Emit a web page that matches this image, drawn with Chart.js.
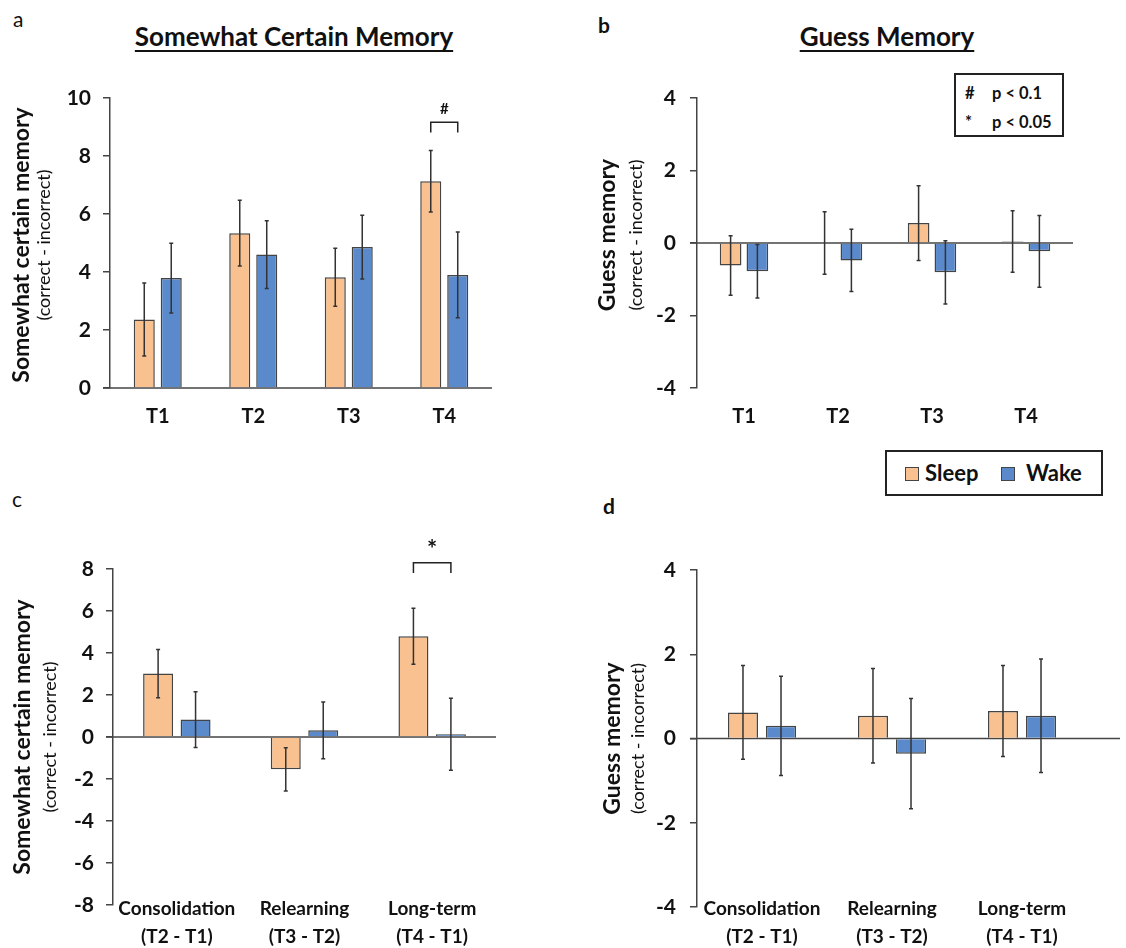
<!DOCTYPE html>
<html>
<head>
<meta charset="utf-8">
<script src="https://cdn.jsdelivr.net/npm/chart.js@4.4.1/dist/chart.umd.min.js"></script>
<style>
  body { margin: 0; width: 1126px; height: 948px; background: #fff; position: relative; overflow: hidden;
         font-family: Lato, "Open Sans", sans-serif; color: #111; }
  canvas { position: absolute; }
  .letter { position: absolute; font-size: 21px; line-height: 24px; }
  .title { position: absolute; font-size: 26px; font-weight: bold; line-height: 30px; white-space: nowrap;
           transform: translateX(-50%); text-decoration: underline; text-decoration-thickness: 2px; text-underline-offset: 4px; }
  .box { position: absolute; border: 2px solid #222; box-sizing: border-box; font-weight: bold; }
  .box span { position: absolute; white-space: nowrap; }
  .sw { width: 12px; height: 12px; border: 1.5px solid #444; }
</style>
</head>
<body>

<div class="letter" style="left:13px;top:7px;">a</div>
<div class="letter" style="left:598px;top:13px;font-weight:bold;">b</div>
<div class="letter" style="left:12px;top:487px;">c</div>
<div class="letter" style="left:603px;top:494px;font-weight:bold;">d</div>

<div class="title" style="left:294px;top:21px;">Somewhat Certain Memory</div>
<div class="title" style="left:887px;top:21px;">Guess Memory</div>

<div class="box" style="left:954px;top:73px;width:110px;height:64px;font-size:16.5px;">
  <span style="left:9px;top:8px;">#</span><span style="left:36px;top:8px;">p &lt; 0.1</span>
  <span style="left:9px;top:37px;">*</span><span style="left:36px;top:37px;">p &lt; 0.05</span>
</div>

<div class="box" style="left:885px;top:450px;width:218px;height:46px;font-size:22px;">
  <span class="sw" style="left:18px;top:15px;background:#F9C18F;"></span><span style="left:38px;top:7px;">Sleep</span>
  <span class="sw" style="left:114px;top:15px;background:#5A8ACB;"></span><span style="left:139px;top:7px;">Wake</span>
</div>

<canvas id="chartA" width="560" height="445" style="left:0;top:0;"></canvas>
<canvas id="chartB" width="566" height="445" style="left:560px;top:0;"></canvas>
<canvas id="chartC" width="560" height="503" style="left:0;top:445px;"></canvas>
<canvas id="chartD" width="566" height="503" style="left:560px;top:445px;"></canvas>

<script>
// categories
const timeLabels = ['T1', 'T2', 'T3', 'T4'];
const changeLabels = [['Consolidation', '(T2 - T1)'], ['Relearning', '(T3 - T2)'], ['Long-term', '(T4 - T1)']];

// a: somewhat certain memory
const certainSleep = [2.36, 5.34, 3.82, 7.13];
const certainSleepErr = [1.26, 1.13, 1.0, 1.06];
const certainWake = [3.79, 4.6, 4.86, 3.9];
const certainWakeErr = [1.2, 1.17, 1.1, 1.48];

// b: guess memory
const guessSleep = [-0.62, 0.0, 0.55, 0.04];
const guessSleepErr = [0.82, 0.86, 1.03, 0.85];
const guessWake = [-0.78, -0.48, -0.81, -0.23];
const guessWakeErr = [0.74, 0.86, 0.87, 0.99];

// c: somewhat certain memory, change scores
const certainChangeSleep = [3.02, -1.54, 4.8];
const certainChangeSleepErr = [1.15, 1.03, 1.33];
const certainChangeWake = [0.83, 0.32, 0.13];
const certainChangeWakeErr = [1.33, 1.35, 1.71];

// d: guess memory, change scores
const guessChangeSleep = [0.62, 0.54, 0.65];
const guessChangeSleepErr = [1.11, 1.12, 1.08];
const guessChangeWake = [0.30, -0.36, 0.54];
const guessChangeWakeErr = [1.18, 1.31, 1.35];

const SLEEP = '#F9C18F';
const WAKE = '#5A8ACB';
const INK = '#111';
const AXIS = '#444';

/* ---------- plugins ---------- */
const zeroLine = {
  id: 'zeroLine',
  beforeDatasetsDraw(chart, args, o) {
    const { ctx, chartArea } = chart;
    const y = chart.scales.y.getPixelForValue(0);
    ctx.save();
    ctx.strokeStyle = AXIS;
    ctx.lineWidth = 1.5;
    ctx.beginPath();
    ctx.moveTo(chartArea.left - 7, y);
    ctx.lineTo(chartArea.right + (o.extend || 0), y);
    ctx.stroke();
    ctx.restore();
  }
};

const errorBars = {
  id: 'errorBars',
  afterDatasetsDraw(chart) {
    const ctx = chart.ctx, ys = chart.scales.y;
    ctx.save();
    ctx.strokeStyle = '#333';
    ctx.lineWidth = 1.5;
    chart.data.datasets.forEach((ds, di) => {
      chart.getDatasetMeta(di).data.forEach((bar, i) => {
        const top = ys.getPixelForValue(ds.data[i] + ds.errors[i]);
        const bot = ys.getPixelForValue(ds.data[i] - ds.errors[i]);
        ctx.beginPath();
        ctx.moveTo(bar.x, top); ctx.lineTo(bar.x, bot);
        ctx.moveTo(bar.x - 2, top); ctx.lineTo(bar.x + 2, top);
        ctx.moveTo(bar.x - 2, bot); ctx.lineTo(bar.x + 2, bot);
        ctx.stroke();
      });
    });
    ctx.restore();
  }
};

const sideTitle = {
  id: 'sideTitle',
  afterDraw(chart, args, o) {
    const { ctx, chartArea } = chart;
    const cy = (chartArea.top + chartArea.bottom) / 2 + (o.dy || 0);
    ctx.save();
    ctx.fillStyle = INK;
    ctx.textAlign = 'center';
    ctx.textBaseline = 'middle';
    ctx.translate(o.x1, cy);
    ctx.rotate(-Math.PI / 2);
    ctx.font = 'bold 23px Lato';
    ctx.fillText(o.main, 0, 0);
    ctx.font = '18px Lato';
    ctx.fillText('(correct - incorrect)', 0, o.x2 - o.x1);
    ctx.restore();
  }
};

// category labels that sit level with the lowest y tick (c and d)
const catLabels = {
  id: 'catLabels',
  afterDraw(chart, args, o) {
    if (!o.show) return;
    const { ctx, chartArea } = chart;
    const xs = chart.scales.x;
    ctx.save();
    ctx.fillStyle = INK;
    ctx.textAlign = 'center';
    ctx.textBaseline = 'middle';
    ctx.font = 'bold 19px Lato';
    chart.data.labels.forEach((lines, i) => {
      const x = xs.getPixelForValue(i);
      lines.forEach((t, k) => ctx.fillText(t, x, chartArea.bottom + o.dy + k * o.lh));
    });
    ctx.restore();
  }
};

const bracket = {
  id: 'bracket',
  afterDraw(chart, args, o) {
    if (!o.label) return;
    const ctx = chart.ctx, ys = chart.scales.y;
    const x1 = chart.getDatasetMeta(0).data[o.index].x;
    const x2 = chart.getDatasetMeta(1).data[o.index].x;
    const yt = ys.getPixelForValue(o.top), yb = ys.getPixelForValue(o.foot);
    ctx.save();
    ctx.strokeStyle = '#222';
    ctx.lineWidth = 1.5;
    ctx.beginPath();
    ctx.moveTo(x1, yb); ctx.lineTo(x1, yt); ctx.lineTo(x2, yt); ctx.lineTo(x2, yb);
    ctx.stroke();
    ctx.fillStyle = INK;
    ctx.textAlign = 'center';
    ctx.textBaseline = 'middle';
    ctx.font = 'bold ' + o.size + 'px Lato';
    ctx.fillText(o.label, (x1 + x2) / 2, ys.getPixelForValue(o.mark));
    ctx.restore();
  }
};

/* ---------- builder ---------- */
function makeChart(id, p) {
  new Chart(document.getElementById(id), {
    type: 'bar',
    data: {
      labels: p.labels,
      datasets: [
        { label: 'Sleep', data: p.sleep, errors: p.sleepErr, backgroundColor: SLEEP, borderColor: AXIS, borderWidth: 1.5,
          categoryPercentage: p.cat, barPercentage: p.bar },
        { label: 'Wake', data: p.wake, errors: p.wakeErr, backgroundColor: WAKE, borderColor: AXIS, borderWidth: 1.5,
          categoryPercentage: p.cat, barPercentage: p.bar }
      ]
    },
    options: {
      responsive: false,
      animation: false,
      layout: { autoPadding: false, padding: p.pad },
      scales: {
        x: {
          grid: { display: false },
          border: { display: false },
          ticks: { display: !p.cats, color: INK, font: { family: 'Lato', size: 20, weight: 'bold' }, padding: 9, maxRotation: 0 },
          afterFit: s => { s.height = p.xH; }
        },
        y: {
          min: p.min, max: p.max,
          grid: { drawOnChartArea: false, tickLength: 7, color: AXIS, lineWidth: 1.5 },
          border: { display: true, color: AXIS, width: 1.5 },
          ticks: { stepSize: 2, color: INK, font: { family: 'Lato', size: 21, weight: 'bold' }, padding: p.yPad },
          afterFit: s => { s.width = p.yW; }
        }
      },
      plugins: {
        legend: { display: false },
        tooltip: { enabled: false },
        zeroLine: { extend: p.extend || 0 },
        sideTitle: p.side,
        catLabels: p.cats || {},
        bracket: p.bracket || {}
      }
    },
    plugins: [zeroLine, errorBars, sideTitle, catLabels, bracket]
  });
}

makeChart('chartA', {
  labels: timeLabels, sleep: certainSleep, sleepErr: certainSleepErr, wake: certainWake, wakeErr: certainWakeErr,
  min: 0, max: 10, cat: 0.565, bar: 0.78,
  pad: { left: 0, top: 98, right: 68, bottom: 0 }, yW: 110, xH: 57, yPad: 12,
  side: { main: 'Somewhat certain memory', x1: 22, x2: 44, dy: 2 },
  bracket: { index: 3, top: 9.16, foot: 8.81, mark: 9.62, label: '#', size: 15 }
});

makeChart('chartB', {
  labels: timeLabels, sleep: guessSleep, sleepErr: guessSleepErr, wake: guessWake, wakeErr: guessWakeErr,
  min: -4, max: 4, cat: 0.57, bar: 0.81,
  pad: { left: 0, top: 98, right: 53, bottom: 0 }, yW: 137, xH: 57, yPad: 14,
  side: { main: 'Guess memory', x1: 48, x2: 76, dy: -8 }
});

makeChart('chartC', {
  labels: changeLabels, sleep: certainChangeSleep, sleepErr: certainChangeSleepErr, wake: certainChangeWake, wakeErr: certainChangeWakeErr,
  min: -8, max: 8, cat: 0.587, bar: 0.8,
  pad: { left: 0, top: 124, right: 64, bottom: 0 }, yW: 113, xH: 43, yPad: 12,
  side: { main: 'Somewhat certain memory', x1: 23, x2: 50, dy: 0 },
  cats: { show: true, dy: 4, lh: 28 },
  bracket: { index: 2, top: 8.3, foot: 7.81, mark: 8.9, label: '*', size: 24 }
});

makeChart('chartD', {
  labels: changeLabels, sleep: guessChangeSleep, sleepErr: guessChangeSleepErr, wake: guessChangeWake, wakeErr: guessChangeWakeErr,
  min: -4, max: 4, cat: 0.585, bar: 0.79,
  pad: { left: 0, top: 125, right: 39, bottom: 0 }, yW: 137, xH: 41, yPad: 14,
  side: { main: 'Guess memory', x1: 53, x2: 78, dy: 0 },
  cats: { show: true, dy: 2, lh: 28 },
  extend: 33
});
</script>
</body>
</html>
